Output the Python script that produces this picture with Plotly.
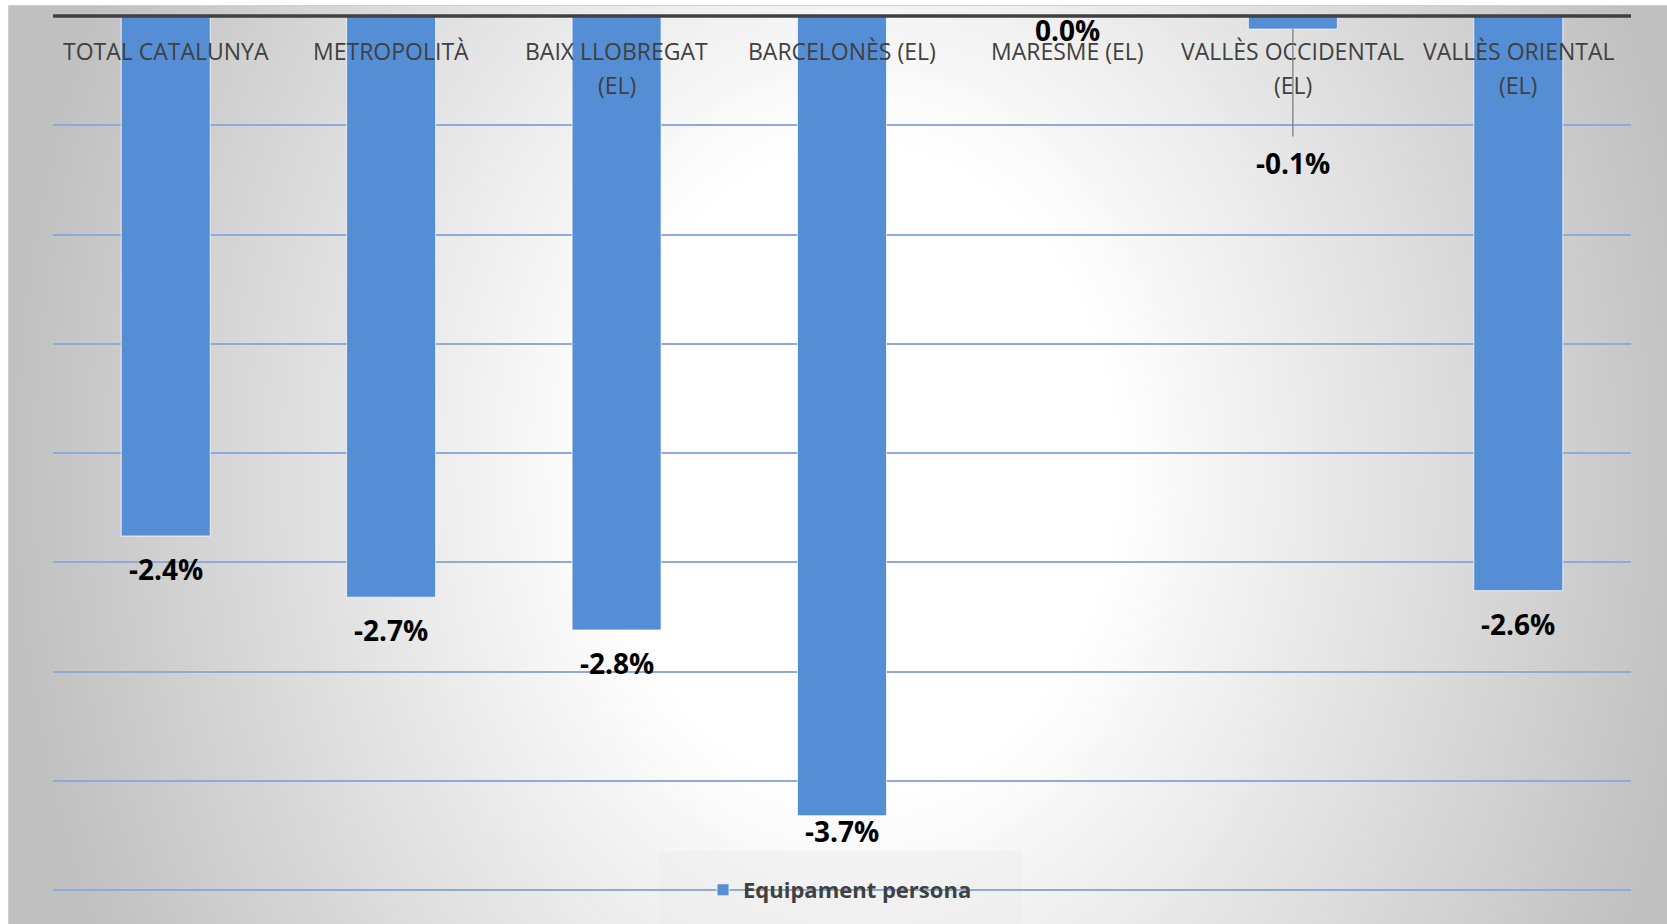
import base64
import plotly.graph_objects as go

# ---- data -------------------------------------------------------------
categories = [
    "TOTAL CATALUNYA",
    "METROPOLITÀ",
    "BAIX LLOBREGAT (EL)",
    "BARCELONÈS (EL)",
    "MARESME (EL)",
    "VALLÈS OCCIDENTAL (EL)",
    "VALLÈS ORIENTAL (EL)",
]
tick_labels = [
    "TOTAL CATALUNYA",
    "METROPOLITÀ",
    "BAIX LLOBREGAT<br>(EL)",
    "BARCELONÈS (EL)",
    "MARESME (EL)",
    "VALLÈS OCCIDENTAL<br>(EL)",
    "VALLÈS ORIENTAL<br>(EL)",
]
variation_pct = [-2.38, -2.66, -2.81, -3.66, 0.0, -0.06, -2.63]
series_name = "Equipament persona"
grid_ticks = [0.0, -0.5, -1.0, -1.5, -2.0, -2.5, -3.0, -3.5, -4.0]

# ---- styling ----------------------------------------------------------
W, H = 1667, 924
M_L, M_R, M_T, M_B = 53, 36, 16, 34
PW, PH = W - M_L - M_R, H - M_T - M_B
BAR_COLOR = "#558ED5"
GRID_COLOR = "#8EAAD5"
AXIS_COLOR = "#404040"
TEXT_COLOR = "#404040"
FONT = "Open Sans"
Y_MIN, Y_MAX = grid_ticks[-1], grid_ticks[0]

# vertical gap (px) between a bar end and its value label
LABEL_GAP = 33
LABEL_GAP_OVERRIDE = {"BARCELONÈS (EL)": 15, "MARESME (EL)": 14}
LEADER_LABELS = {"VALLÈS OCCIDENTAL (EL)": 134}


def px_x(px):
    return (px - M_L) / PW


def px_y(py):
    return 1 - (py - M_T) / PH


def val_to_paper(v):
    return (v - Y_MIN) / (Y_MAX - Y_MIN)


# chart-area fill: soft radial highlight fading to grey at the sides
bg_svg = f"""<svg xmlns="http://www.w3.org/2000/svg" width="{W}" height="{H}" viewBox="0 0 {W} {H}" preserveAspectRatio="none">
<defs>
<radialGradient id="g" gradientUnits="userSpaceOnUse" cx="860" cy="470" r="850"
 gradientTransform="translate(860 470) scale(1 1.26) translate(-860 -470)">
<stop offset="0" stop-color="#ffffff"/>
<stop offset="0.3" stop-color="#ffffff"/>
<stop offset="1" stop-color="#c0c0c0"/>
</radialGradient>
</defs>
<rect width="{W}" height="{H}" fill="#ffffff"/>
<rect x="8.5" y="5.5" width="{W + 20}" height="{H + 20}" fill="url(#g)" stroke="#d0d0d0" stroke-width="1"/>
</svg>"""
bg_uri = "data:image/svg+xml;base64," + base64.b64encode(bg_svg.encode("utf-8")).decode("ascii")

fig = go.Figure()
fig.add_trace(
    go.Bar(
        x=categories,
        y=variation_pct,
        name=series_name,
        marker=dict(color=BAR_COLOR, line=dict(color="rgba(255,255,255,0.75)", width=1)),
        showlegend=True,
    )
)

annotations = []
# category names just under the zero line
for cat, lab in zip(categories, tick_labels):
    for i, line in enumerate(lab.split("<br>")):
        annotations.append(
            dict(
                x=cat, y=0, xref="x", yref="y",
                text=line, showarrow=False,
                xanchor="center", yanchor="middle",
                yshift=-35 - 33.7 * i,
                font=dict(family=FONT, size=23, color=TEXT_COLOR),
            )
        )

# value labels
for cat, val in zip(categories, variation_pct):
    label = f"{val:.1f}%"
    font = dict(family=FONT, size=28, color="#000000", weight=700)
    if cat in LEADER_LABELS:
        annotations.append(
            dict(
                x=cat, y=val, xref="x", yref="y",
                text=label, showarrow=True,
                ax=0, ay=LEADER_LABELS[cat],
                arrowhead=0, arrowwidth=1.3, arrowcolor="#7f7f7f",
                standoff=0, startstandoff=6,
                font=font,
            )
        )
    else:
        annotations.append(
            dict(
                x=cat, y=val, xref="x", yref="y",
                text=label, showarrow=False,
                xanchor="center", yanchor="middle",
                yshift=-LABEL_GAP_OVERRIDE.get(cat, LABEL_GAP),
                font=font,
            )
        )

shapes = [
    # legend panel
    dict(
        type="rect", xref="paper", yref="paper",
        x0=px_x(659), x1=px_x(1022), y0=px_y(930), y1=px_y(851),
        fillcolor="rgba(235,235,235,0.45)", line=dict(width=0), layer="below",
    ),
    # gridline at the bottom edge of the value range
    dict(
        type="line", xref="paper", yref="paper",
        x0=0, x1=1, y0=val_to_paper(Y_MIN), y1=val_to_paper(Y_MIN),
        line=dict(color=GRID_COLOR, width=1.8), layer="below",
    ),
    # zero axis line (paper-referenced so it is not clipped at the top edge)
    dict(
        type="line", xref="paper", yref="paper",
        x0=0, x1=1, y0=val_to_paper(0), y1=val_to_paper(0),
        line=dict(color=AXIS_COLOR, width=3.6), layer="above",
    ),
]

fig.update_layout(
    width=W, height=H,
    margin=dict(l=M_L, r=M_R, t=M_T, b=M_B, pad=0),
    paper_bgcolor="#ffffff",
    plot_bgcolor="rgba(0,0,0,0)",
    bargap=0.605,
    font=dict(family=FONT, color=TEXT_COLOR),
    images=[
        dict(
            source=bg_uri, xref="paper", yref="paper",
            x=-M_L / PW, y=1 + M_T / PH,
            sizex=W / PW, sizey=H / PH,
            xanchor="left", yanchor="top",
            sizing="stretch", layer="below",
        )
    ],
    xaxis=dict(
        showticklabels=False, showgrid=False, zeroline=False,
        showline=False, ticks="", fixedrange=True,
    ),
    yaxis=dict(
        range=[Y_MIN, Y_MAX], tickvals=grid_ticks,
        showticklabels=False, showgrid=True,
        gridcolor=GRID_COLOR, gridwidth=1.8,
        zeroline=False, showline=False, ticks="", fixedrange=True,
    ),
    legend=dict(
        orientation="h", x=px_x(840), xanchor="center",
        y=0, yanchor="middle",
        bgcolor="rgba(0,0,0,0)",
        font=dict(family=FONT, size=22, color=TEXT_COLOR, weight=700),
    ),
    annotations=annotations,
    shapes=shapes,
)

fig.write_html("out.html")
